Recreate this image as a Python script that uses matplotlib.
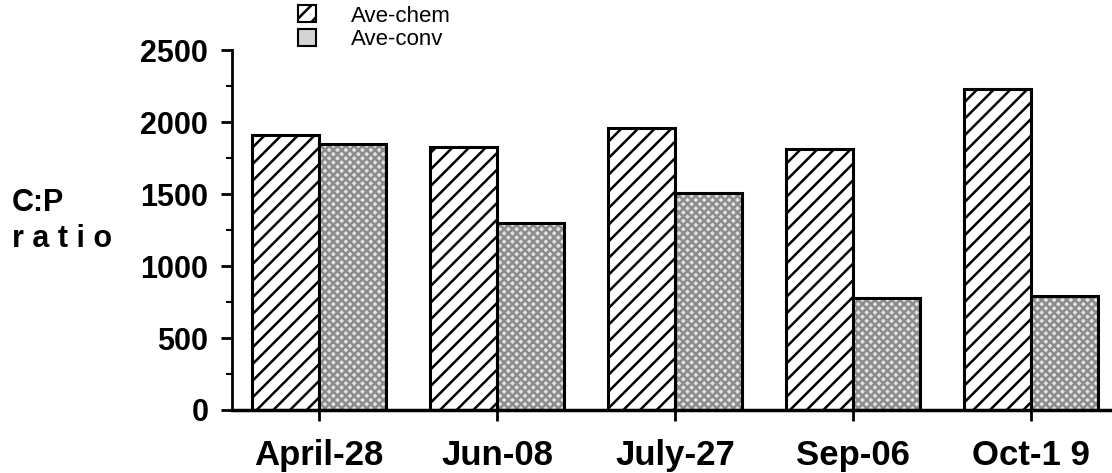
import matplotlib
matplotlib.use('Agg')
import matplotlib.pyplot as plt
from matplotlib.patches import Patch
from matplotlib.ticker import MultipleLocator
import numpy as np

dates = ['April-28', 'Jun-08', 'July-27', 'Sep-06', 'Oct-1 9']
ave_chem = [1910, 1830, 1960, 1810, 2230]
ave_conv = [1850, 1300, 1510, 780, 790]

plt.rcParams['font.family'] = ['Liberation Sans', 'DejaVu Sans']
plt.rcParams['hatch.linewidth'] = 1.8

fig = plt.figure(figsize=(11.12, 4.73), dpi=100)
ax = fig.add_axes([0.2086, 0.1332, 0.7914, 0.761])

x = np.arange(len(dates))
width = 0.376  # bar width in group units

# chem: white with diagonal hatch
ax.bar(x - width / 2, ave_chem, width, facecolor='white', edgecolor='black',
       hatch='//', linewidth=2.2, label='Ave-chem')
# conv: grey stipple, then a black outline on top
ax.bar(x + width / 2, ave_conv, width, facecolor='#e2e2e2', edgecolor='#8c8c8c',
       hatch='xxxx', linewidth=0)
ax.bar(x + width / 2, ave_conv, width, fill=False, edgecolor='black', linewidth=2.2)

ax.set_xlim(-0.489, 4.455)
ax.set_ylim(0, 2500)
ax.yaxis.set_major_locator(MultipleLocator(500))
ax.yaxis.set_minor_locator(MultipleLocator(250))
ax.set_xticks(x)
ax.set_xticklabels(dates)

for s in ['top', 'right']:
    ax.spines[s].set_visible(False)
ax.spines['left'].set_linewidth(2)
ax.spines['bottom'].set_linewidth(2.5)

ax.tick_params(axis='y', which='major', length=8, width=2, labelsize=22, pad=9)
ax.tick_params(axis='y', which='minor', length=4, width=1.5)
ax.tick_params(axis='x', length=8, width=2, labelsize=25, pad=13)
for lab in ax.get_yticklabels() + ax.get_xticklabels():
    lab.set_fontweight('bold')

fig.text(0.011, 0.532, 'C:P\nr a t i o', fontsize=22, fontweight='bold',
         ha='left', va='center', linespacing=1.25)

handles = [Patch(facecolor='white', edgecolor='black', hatch='//', linewidth=1.5),
           Patch(facecolor='#d4d4d4', edgecolor='black', linewidth=1.5)]
fig.legend(handles, ['Ave-chem', 'Ave-conv'], loc='upper left',
           bbox_to_anchor=(0.258, 1.012), frameon=False, fontsize=16,
           handlelength=0.8, handleheight=0.8, handletextpad=1.6,
           labelspacing=0.1, borderaxespad=0.1)

fig.savefig('out.png', dpi=100)
